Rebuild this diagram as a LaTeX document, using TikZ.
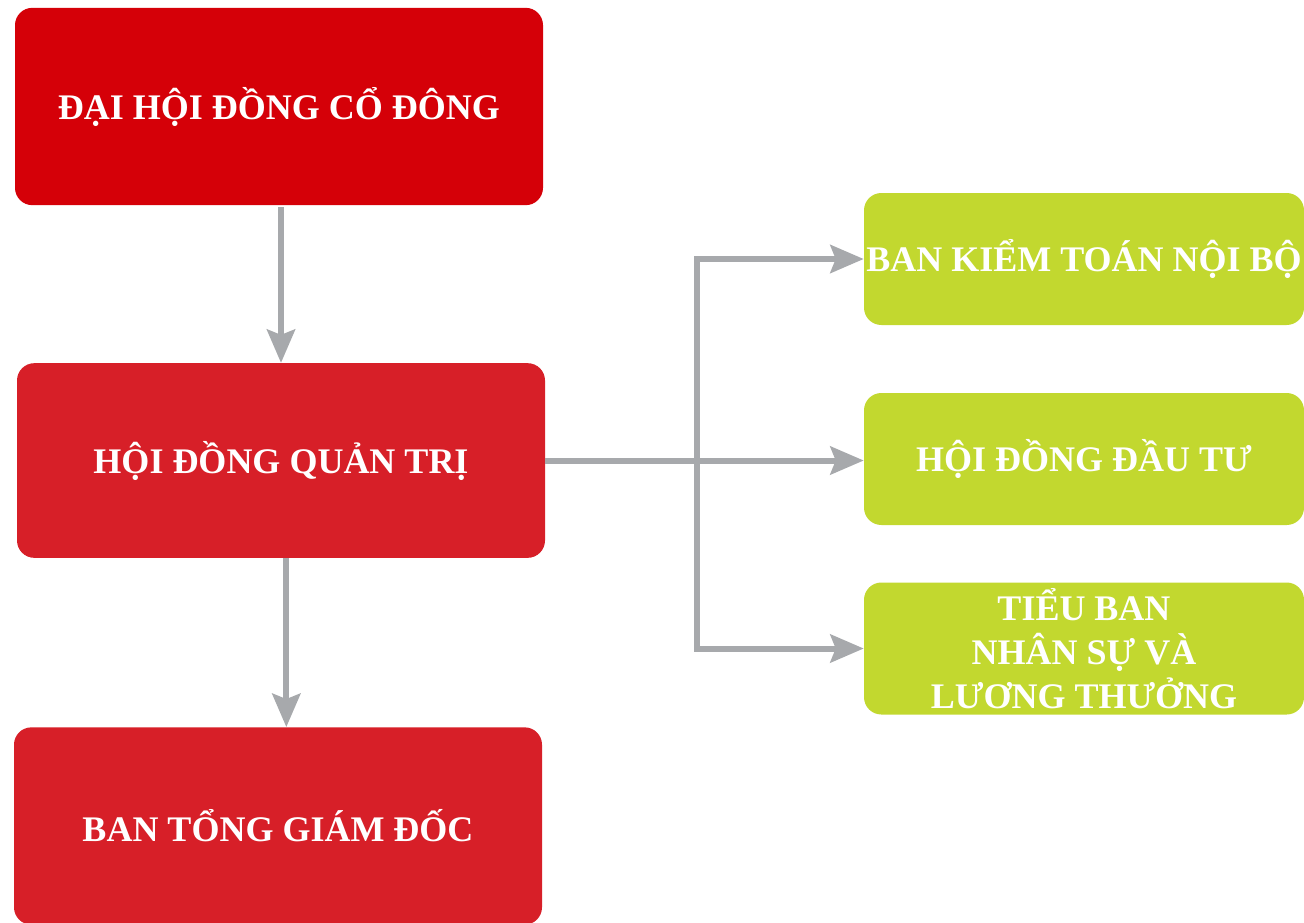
\documentclass[tikz,border=0pt]{standalone}
\usepackage{fontspec}
\setmainfont{Liberation Serif}
\usetikzlibrary{arrows.meta}
\definecolor{doDam}{HTML}{D50008}
\definecolor{doNhat}{HTML}{D71F28}
\definecolor{xanhLa}{HTML}{C2D82F}
\definecolor{xamMuiTen}{HTML}{A7A9AC}
\tikzset{
  hopdo/.style={rounded corners=13pt, minimum width=396pt, inner sep=0pt,
    text=white, font=\fontsize{27}{32}\selectfont\bfseries, align=center},
  hopxanh/.style={fill=xanhLa, rounded corners=13pt, minimum width=330pt,
    minimum height=99pt, inner sep=0pt, text=white,
    font=\fontsize{27}{33}\selectfont\bfseries, align=center},
  muiten/.style={draw=xamMuiTen, line width=4.5pt,
    -{Stealth[length=25pt, width=21pt, inset=4pt]}}
}
\begin{document}
\begin{tikzpicture}[x=0.75pt, y=-0.75pt]
				\useasboundingbox (0,0) rectangle (1304,922);
				
				% Các cấp bên trái
				\node[hopdo, fill=doDam, minimum height=148pt] (dhcd) at (279,106.5) {ĐẠI HỘI ĐỒNG CỔ ĐÔNG};
				\node[hopdo, fill=doNhat, minimum height=146pt] (hdqt) at (281,460.5) {HỘI ĐỒNG QUẢN TRỊ};
				\node[hopdo, fill=doNhat, minimum height=148pt] (btgd) at (278,826) {BAN TỔNG GIÁM ĐỐC};
				
				% Các ban bên phải
				\node[hopxanh] (kiemtoan) at (1084,259) {BAN KIỂM TOÁN NỘI BỘ};
				\node[hopxanh] (dautu) at (1084,459) {HỘI ĐỒNG ĐẦU TƯ};
				\node[hopxanh] (nhansu) at (1084,648.5) {TIỂU BAN\\NHÂN SỰ VÀ\\LƯƠNG THƯỞNG};
				
				% Mũi tên dọc
				\draw[muiten] ([yshift=-1.5pt]dhcd.south -| hdqt) -- (hdqt.north);
				\draw[muiten] ([xshift=4pt]hdqt.south) -- ([xshift=4pt]hdqt.south |- btgd.north);
				
				% Nhánh sang phải
				\coordinate (tach) at (697,460.5);
				\draw[muiten] (hdqt.east) -- (hdqt.east -| dautu.west);
				\draw[muiten] (tach) |- (kiemtoan.west);
				\draw[muiten] (tach) |- (nhansu.west);
			\end{tikzpicture}
\end{document}
